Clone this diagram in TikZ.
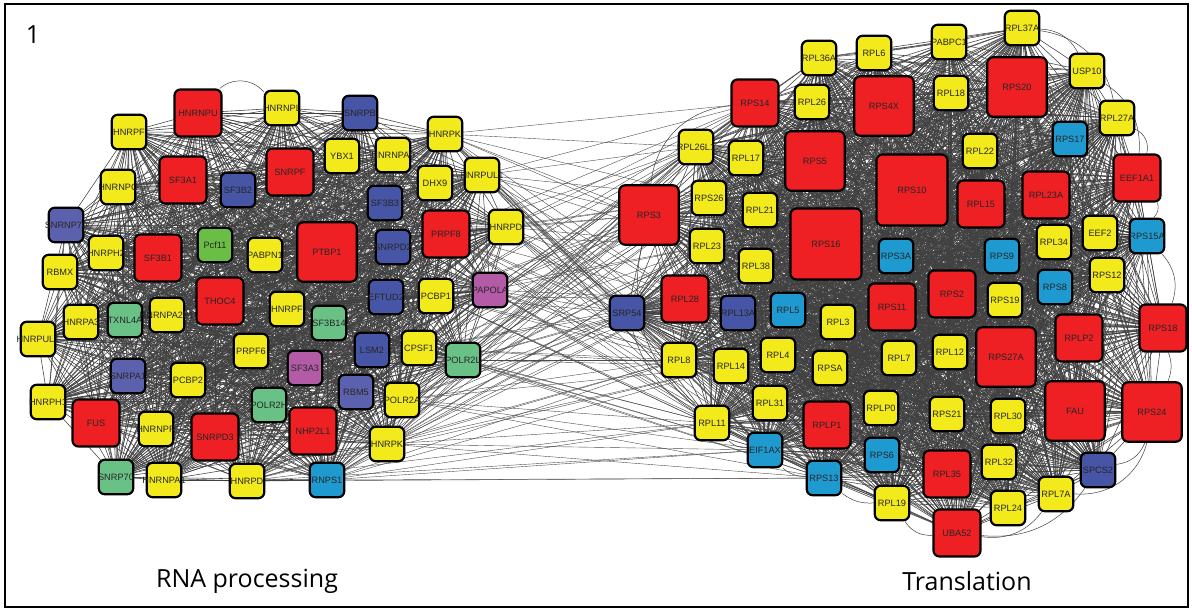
\documentclass[tikz,border=0pt]{standalone}
\usepackage{fontspec}
\setmainfont{Liberation Sans}
\newfontfamily\capfont{Open Sans}
\usetikzlibrary{calc}

\definecolor{geneyellow}{HTML}{F2EA1B}
\definecolor{genered}{HTML}{EE2024}
\definecolor{geneblue}{HTML}{4655A5}
\definecolor{geneslate}{HTML}{5C61AD}
\definecolor{genegreen}{HTML}{6ABD45}
\definecolor{genemint}{HTML}{69C185}
\definecolor{genepurple}{HTML}{B35BA7}
\definecolor{genecyan}{HTML}{1F9AD0}

\pgfdeclarelayer{background}
\pgfsetlayers{background,main}

\def\leftgenes{hnrpfA,hnrnpu,hnrnpl,snrpb,hnrpkA,ybx1,hnrnpa0,sf3a1,sf3b2,hnrnpc,snrpf,dhx9,hnrpulA,sf3b3,snrnp70,hnrph2,sf3b1,pcf11,pabpn1,ptbp1,snrpd2,prpf8,hnrpdA,rbmx,thoc4,hnrpa3,txnl4a,hnrnpa2b1,hnrpulB,hnrpfB,sf3b14,eftud2,pcbp1,papola,prpf6,lsm2,cpsf1,polr2l,sf3a3,snrpa1,pcbp2,hnrph1,polr2h,rbm5,polr2a,fus,hnrnpr,snrpd3,nhp2l1,hnrpkB,snrp70,hnrnpa1,hnrpdB,rnps1}
\def\rightgenes{rpl36a,rpl6,pabpc1,rpl37a,usp10,rps14,rpl26,rps4x,rpl18,rps20,rpl27a,rpl26l1,rpl17,rps5,rpl22,rps17,rps10,rpl15,rpl23a,eef1a1,rps3,rps26,rpl21,rps16,rpl23,rps3a,rps9,rpl34,eef2,rps15a,rpl38,rpl28,srp54,rpl13a,rpl5,rpl3,rps11,rps2,rps19,rps8,rps12,rps18,rplp2,rpl8,rpl14,rpl4,rpsa,rpl7,rpl12,rps27a,rpl31,rplp0,rplp1,rpl11,rps21,rpl30,fau,rps24,eif1ax,rps6,rpl35,rpl32,spcs2,rps13,rpl19,rpl7a,rpl24,uba52}

\begin{document}
\begin{tikzpicture}[x=1pt, y=-1pt,
  gene/.style={draw=black, line width=2.2pt, rounded corners=6pt, inner sep=0pt,
               minimum size=34.5pt, font=\fontsize{9.2}{10}\selectfont, text=black!85,
               execute at begin node={\hbox to 0pt\bgroup\hss},
               execute at end node={\hss\egroup}},
  midsq/.style={minimum size=47pt},
  bigsq/.style={minimum size=59.5pt},
  hugesq/.style={minimum size=71pt},
  yel/.style={gene, fill=geneyellow},
  rd/.style={gene, fill=genered},
  blu/.style={gene, fill=geneblue},
  slate/.style={gene, fill=geneslate},
  grn/.style={gene, fill=genegreen},
  mint/.style={gene, fill=genemint},
  purp/.style={gene, fill=genepurple},
  cyn/.style={gene, fill=genecyan},
  pairline/.style={draw=black!75, line width=0.55pt},
  linkline/.style={draw=black!70, line width=0.4pt},
  arcline/.style={draw=black!75, line width=0.5pt},
  caption/.style={font=\capfont\fontsize{25}{30}\selectfont, inner sep=0pt},
]
\useasboundingbox (0,0) rectangle (1192,611);
\draw[line width=2pt] (4.5,3.5) rectangle (1188,607);

\node[caption] (num) at (33,35) {1};
\node[caption] (rnacap) at (247,581) {RNA processing};
\node[caption] (transcap) at (967,581) {Translation};

% RNA processing
\node[yel] (hnrpfA) at (129,132) {HNRPF};
\node[rd, midsq] (hnrnpu) at (198,113) {HNRNPU};
\node[yel] (hnrnpl) at (282,108) {HNRNPL};
\node[blu] (snrpb) at (360,113) {SNRPB};
\node[yel] (hnrpkA) at (445,134) {HNRPK};
\node[yel] (ybx1) at (342,156) {YBX1};
\node[yel] (hnrnpa0) at (393,155) {HNRNPA0};
\node[rd, midsq] (sf3a1) at (183,180) {SF3A1};
\node[blu] (sf3b2) at (238,190) {SF3B2};
\node[yel] (hnrnpc) at (118,187) {HNRNPC};
\node[rd, midsq] (snrpf) at (290,172) {SNRPF};
\node[yel] (dhx9) at (435,183) {DHX9};
\node[yel] (hnrpulA) at (482,175) {HNRPUL1};
\node[blu] (sf3b3) at (385,203) {SF3B3};
\node[slate] (snrnp70) at (66,225) {SNRNP70};
\node[yel] (hnrph2) at (106,253) {HNRPH2};
\node[rd, midsq] (sf3b1) at (158,258) {SF3B1};
\node[grn] (pcf11) at (215,245) {Pcf11};
\node[yel] (pabpn1) at (265,255) {PABPN1};
\node[rd, bigsq] (ptbp1) at (327,252) {PTBP1};
\node[blu] (snrpd2) at (393,247) {SNRPD2};
\node[rd, midsq] (prpf8) at (446,234) {PRPF8};
\node[yel] (hnrpdA) at (506,227) {HNRPD};
\node[yel] (rbmx) at (60,272) {RBMX};
\node[rd, midsq] (thoc4) at (220,301) {THOC4};
\node[yel] (hnrpa3) at (81,322) {HNRPA3};
\node[mint] (txnl4a) at (125,320) {TXNL4A};
\node[yel] (hnrnpa2b1) at (167,315) {HNRNPA2B1};
\node[yel] (hnrpulB) at (38,339) {HNRPUL1};
\node[yel] (hnrpfB) at (287,309) {HNRPF};
\node[mint] (sf3b14) at (329,323) {SF3B14};
\node[blu] (eftud2) at (386,297) {EFTUD2};
\node[yel] (pcbp1) at (436,296) {PCBP1};
\node[purp] (papola) at (490,290) {PAPOLA};
\node[yel] (prpf6) at (251,351) {PRPF6};
\node[blu] (lsm2) at (372,350) {LSM2};
\node[yel] (cpsf1) at (419,348) {CPSF1};
\node[mint] (polr2l) at (463,360) {POLR2L};
\node[purp] (sf3a3) at (305,368) {SF3A3};
\node[slate] (snrpa1) at (128,376) {SNRPA1};
\node[yel] (pcbp2) at (188,380) {PCBP2};
\node[yel] (hnrph1) at (48,402) {HNRPH1};
\node[mint] (polr2h) at (269,405) {POLR2H};
\node[slate] (rbm5) at (356,392) {RBM5};
\node[yel] (polr2a) at (402,400) {POLR2A};
\node[rd, midsq] (fus) at (96,423) {FUS};
\node[yel] (hnrnpr) at (156,429) {HNRNPR};
\node[rd, midsq] (snrpd3) at (215,437) {SNRPD3};
\node[rd, midsq] (nhp2l1) at (313,431) {NHP2L1};
\node[yel] (hnrpkB) at (387,444) {HNRPK};
\node[mint] (snrp70) at (116,477) {SNRP70};
\node[yel] (hnrnpa1) at (164,480) {HNRNPA1};
\node[yel] (hnrpdB) at (247,481) {HNRPD};
\node[cyn] (rnps1) at (327,480) {RNPS1};

% Translation
\node[yel] (rpl36a) at (819,58) {RPL36A};
\node[yel] (rpl6) at (874,53) {RPL6};
\node[yel] (pabpc1) at (949,42) {PABPC1};
\node[yel] (rpl37a) at (1022,28) {RPL37A};
\node[yel] (usp10) at (1087,71) {USP10};
\node[rd, midsq] (rps14) at (755,103) {RPS14};
\node[yel] (rpl26) at (812,102) {RPL26};
\node[rd, bigsq] (rps4x) at (884,106) {RPS4X};
\node[yel] (rpl18) at (951,93) {RPL18};
\node[rd, bigsq] (rps20) at (1017,87) {RPS20};
\node[yel] (rpl27a) at (1117,118) {RPL27A};
\node[yel] (rpl26l1) at (696,147) {RPL26L1};
\node[yel] (rpl17) at (746,158) {RPL17};
\node[rd, bigsq] (rps5) at (815,161) {RPS5};
\node[yel] (rpl22) at (980,151) {RPL22};
\node[cyn] (rps17) at (1070,139) {RPS17};
\node[rd, hugesq] (rps10) at (912,190) {RPS10};
\node[rd, midsq] (rpl15) at (981,204) {RPL15};
\node[rd, midsq] (rpl23a) at (1046,195) {RPL23A};
\node[rd, midsq] (eef1a1) at (1137,178) {EEF1A1};
\node[rd, bigsq] (rps3) at (649,215) {RPS3};
\node[yel] (rps26) at (709,198) {RPS26};
\node[yel] (rpl21) at (760,210) {RPL21};
\node[rd, hugesq] (rps16) at (826,244) {RPS16};
\node[yel] (rpl23) at (707,246) {RPL23};
\node[cyn] (rps3a) at (896,256) {RPS3A};
\node[cyn] (rps9) at (1002,256) {RPS9};
\node[yel] (rpl34) at (1054,242) {RPL34};
\node[yel] (eef2) at (1100,233) {EEF2};
\node[cyn] (rps15a) at (1147,236) {RPS15A};
\node[yel] (rpl38) at (756,266) {RPL38};
\node[rd, midsq] (rpl28) at (685,299) {RPL28};
\node[blu] (srp54) at (627,313) {SRP54};
\node[blu] (rpl13a) at (738,313) {RPL13A};
\node[cyn] (rpl5) at (788,310) {RPL5};
\node[yel] (rpl3) at (838,322) {RPL3};
\node[rd, midsq] (rps11) at (892,307) {RPS11};
\node[rd, midsq] (rps2) at (952,294) {RPS2};
\node[yel] (rps19) at (1005,300) {RPS19};
\node[cyn] (rps8) at (1055,287) {RPS8};
\node[yel] (rps12) at (1107,275) {RPS12};
\node[rd, midsq] (rps18) at (1163,328) {RPS18};
\node[rd, midsq] (rplp2) at (1079,338) {RPLP2};
\node[yel] (rpl8) at (679,360) {RPL8};
\node[yel] (rpl14) at (731,366) {RPL14};
\node[yel] (rpl4) at (778,355) {RPL4};
\node[yel] (rpsa) at (830,368) {RPSA};
\node[yel] (rpl7) at (899,358) {RPL7};
\node[yel] (rpl12) at (950,352) {RPL12};
\node[rd, bigsq] (rps27a) at (1006,357) {RPS27A};
\node[yel] (rpl31) at (770,403) {RPL31};
\node[yel] (rplp0) at (881,408) {RPLP0};
\node[rd, midsq] (rplp1) at (827,425) {RPLP1};
\node[yel] (rpl11) at (712,423) {RPL11};
\node[yel] (rps21) at (947,414) {RPS21};
\node[yel] (rpl30) at (1008,416) {RPL30};
\node[rd, bigsq] (fau) at (1075,411) {FAU};
\node[rd, bigsq] (rps24) at (1152,412) {RPS24};
\node[cyn] (eif1ax) at (765,450) {EIF1AX};
\node[cyn] (rps6) at (882,455) {RPS6};
\node[rd, midsq] (rpl35) at (947,474) {RPL35};
\node[yel] (rpl32) at (999,462) {RPL32};
\node[blu] (spcs2) at (1098,470) {SPCS2};
\node[cyn] (rps13) at (824,478) {RPS13};
\node[yel] (rpl19) at (892,503) {RPL19};
\node[yel] (rpl7a) at (1056,494) {RPL7A};
\node[yel] (rpl24) at (1008,508) {RPL24};
\node[rd, midsq] (uba52) at (957,533) {UBA52};

\begin{pgfonlayer}{background}
\foreach \a [count=\i] in \leftgenes {
  \foreach \b [count=\j] in \leftgenes {
    \ifnum\j>\i \draw[pairline] (\a.center) -- (\b.center); \fi
  }
}
\foreach \a [count=\i] in \rightgenes {
  \foreach \b [count=\j] in \rightgenes {
    \ifnum\j>\i \draw[pairline] (\a.center) -- (\b.center); \fi
  }
}
\foreach \a in {papola,polr2l,hnrpdA,hnrpulA,pcbp1,cpsf1,polr2a,hnrpkB,rnps1,hnrpdB,prpf8,hnrpkA}
  \foreach \b in {rps3,srp54,rpl8,rpl11,eif1ax,rps13,rpl26l1,rps26,rpl23,rpl28,rps14,rpl14}
    \draw[linkline] (\a.center) -- (\b.center);

\draw[arcline] (hnrnpu) to[bend left=45] (hnrnpl);
\draw[arcline] (rps14) to[bend right=40] (rps3);
\draw[arcline] (rps3) to[bend right=30] (rpl11);
\draw[arcline] (srp54) to[bend right=20] (rpl11);
\draw[arcline] (rpl37a) to[bend left=30] (usp10);
\draw[arcline] (rpl37a) to[bend left=35] (rpl27a);
\draw[arcline] (usp10) to[bend left=30] (eef1a1);
\draw[arcline] (rpl27a) to[bend left=40] (eef1a1);
\draw[arcline] (eef1a1) to[bend left=30] (rps15a);
\draw[arcline] (rps15a) to[bend left=30] (rps18);
\draw[arcline] (rps18) to[bend left=20] (rps24);
\draw[arcline] (rps24) to[bend left=30] (spcs2);
\draw[arcline] (rps24) to[bend left=40] (rpl7a);
\draw[arcline] (spcs2) to[bend left=30] (uba52);
\draw[arcline] (rpl7a) to[bend left=30] (uba52);
\draw[arcline] (uba52) to[bend left=30] (rpl19);
\draw[arcline] (rpl19) to[bend left=20] (rps13);
\draw[arcline] (rps13) to[bend left=20] (eif1ax);
\draw[arcline] (eif1ax) to[bend left=20] (rpl11);
\end{pgfonlayer}
\end{tikzpicture}
\end{document}
